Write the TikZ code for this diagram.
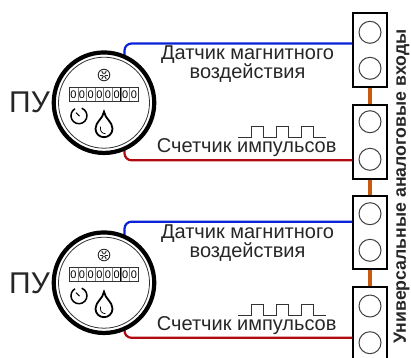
\documentclass[tikz,border=0pt]{standalone}
\usepackage{fontspec}
\setmainfont{Liberation Sans}
\definecolor{wblue}{HTML}{0A22D8}
\definecolor{wred}{HTML}{B00A10}
\definecolor{worange}{HTML}{C85A11}
\definecolor{ringgray}{HTML}{404040}
\tikzset{
  termbox/.style={draw=black,line width=1.8pt,fill=white,minimum width=33.5pt,minimum height=72pt,inner sep=0,rectangle},
  termhole/.style={draw=ringgray,line width=1pt,fill=white,circle,minimum size=22pt,inner sep=0},
  wireb/.style={draw=wblue,line width=2.2pt,rounded corners=7pt},
  wirer/.style={draw=wred,line width=2.2pt,rounded corners=7pt},
  jumper/.style={draw=worange,line width=3.2pt},
  lbl/.style={font=\fontsize{20pt}{19pt}\selectfont,inner sep=0,text=black!85,align=center},
  pu/.style={font=\fontsize{30pt}{30pt}\selectfont,inner sep=0,text=black!85},
  pulse/.style={draw=black!80,line width=0.9pt},
  digit/.style={font=\fontsize{11pt}{11pt}\selectfont,inner sep=0,text=black}
}
\newcommand{\meter}[2]{%
 \begin{scope}[shift={(#1,#2)}]
  \node[circle,draw=black,line width=4.2pt,fill=white,minimum size=100.5pt,inner sep=0] (m#2) at (0,0) {};
  \node[circle,draw=black!80,line width=0.8pt,minimum size=91pt,inner sep=0] (mi#2) at (0,0) {};
  \draw[draw=black!80,line width=0.9pt] (-35,-15) rectangle (34.5,-1.5);
  \draw[draw=black,line width=1pt] (16.5,-15) -- (16.5,-1.5);
  \foreach \i in {0,...,7}{
    \node[digit] at ({-30.6+\i*8.65},-8.2) {0};
    \ifnum\i>0 \draw[draw=black!50,line width=0.3pt] ({-35+\i*8.65},-15) -- ({-35+\i*8.65},-1.5);\fi
  }
  \draw[draw=black!85,line width=0.9pt] (0,-27.7) circle (5.8);
  \foreach \a in {0,60,...,300}{\draw[draw=black!85,line width=1pt] ({1.1*cos(\a)},{-27.7+1.1*sin(\a)}) -- ({4.4*cos(\a)},{-27.7+4.4*sin(\a)});}
  \draw[draw=black,line width=1.5pt] (-22.3,5.5) arc[start angle=-70,end angle=240,radius=8];
  \draw[draw=black,line width=1.1pt] (-28,10) -- (-24.5,13.5);
  \draw[draw=black,line width=1.8pt] (0,9) .. controls (1,16) and (8.5,19) .. (8.5,26) .. controls (8.5,31) and (4.5,34.5) .. (0,34.5) .. controls (-4.5,34.5) and (-8.5,31) .. (-8.5,26) .. controls (-8.5,19) and (-1,16) .. (0,9) -- cycle;
  \draw[draw=black,line width=0.7pt] (-3.5,24) .. controls (-4.5,28) and (-2,31) .. (1.5,31);
 \end{scope}}
\newcommand{\pulsewave}[1]{%
  \draw[pulse] (238,#1) -- (251,#1) -- (251,{#1-11.5}) -- (263,{#1-11.5}) -- (263,#1) -- (276,#1) -- (276,{#1-11.5}) -- (288,{#1-11.5}) -- (288,#1) -- (301,#1) -- (301,{#1-11.5}) -- (313,{#1-11.5}) -- (313,#1) -- (326,#1);}
\begin{document}
\begin{tikzpicture}[x=1pt,y=-1pt]
\useasboundingbox (0,0) rectangle (411,357);
\begin{scope}
\clip (0,0) rectangle (411,357);
% terminals
\node[termbox,minimum height=73.5pt] (t1) at (370,50) {};
\node[termbox,minimum height=74pt] (t2) at (370,142) {};
\node[termbox,minimum height=72.5pt] (t3) at (370,232.4) {};
\node[termbox,minimum height=74pt] (t4) at (370,324) {};
\draw[jumper] (t1.south) -- (t2.north);
\draw[jumper] (t2.south) -- (t3.north);
\draw[jumper] (t3.south) -- (t4.north);
\node[termhole] (h1) at (370,32.3) {};
\node[termhole] (h2) at (370,68.3) {};
\node[termhole] (h3) at (370,121.7) {};
\node[termhole] (h4) at (370,159.3) {};
\node[termhole] (h5) at (370,213.7) {};
\node[termhole] (h6) at (370,250.3) {};
\node[termhole] (h7) at (370,306) {};
\node[termhole] (h8) at (370,342.7) {};
% wires
\coordinate (b1) at (124.5,58);
\coordinate (r1) at (124.5,148);
\coordinate (b2) at (124.5,238);
\coordinate (r2) at (124.5,328);
\draw[wireb] (b1) |- (t1.west |- 0,43.5);
\draw[wirer] (r1) |- (t2.west |- 0,160.3);
\draw[wireb] (b2) |- (t3.west |- 0,221.7);
\draw[wirer] (r2) |- (t4.west |- 0,337.8);
\meter{104}{102.7}
\meter{104}{282.7}
\node[pu] (pu1) at (29.5,102.5) {ПУ};
\node[pu] (pu2) at (29.5,283) {ПУ};
\node[lbl] (a1) at (247.5,64.5) {Датчик магнитного\\воздействия};
\node[lbl] (c1) at (246.7,148) {Счетчик импульсов};
\node[lbl] (a2) at (247.5,243) {Датчик магнитного\\воздействия};
\node[lbl] (c2) at (246.7,326) {Счетчик импульсов};
\pulsewave{137.5}
\pulsewave{315.5}
\node[rotate=90,font=\fontsize{17.7pt}{19pt}\selectfont\bfseries,inner sep=0,text=black!85] (v) at (401.5,186.5) {Универсальные аналоговые входы};
\end{scope}
\end{tikzpicture}
\end{document}
